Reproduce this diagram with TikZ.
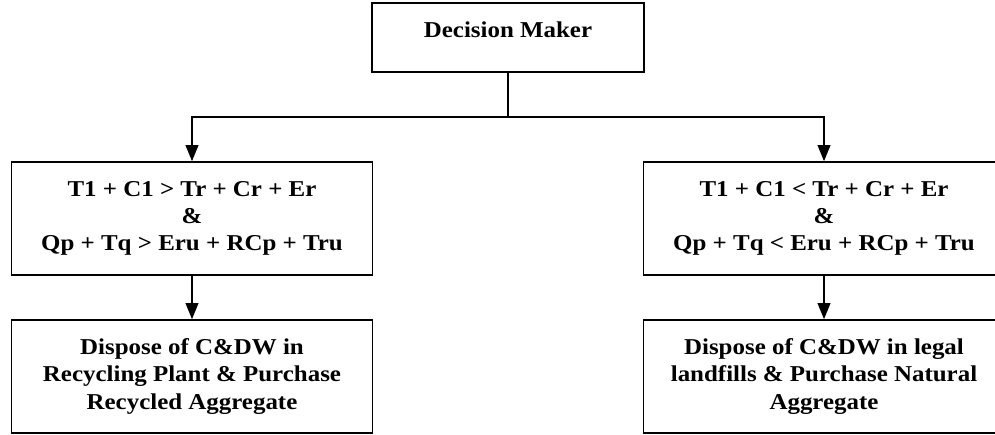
\documentclass[tikz,border=0pt]{standalone}
\usepackage{fontspec}
\setmainfont{Liberation Serif}[FakeStretch=1.1]
\usetikzlibrary{arrows.meta}
\begin{document}
\begin{tikzpicture}[x=0.75pt,y=-0.75pt,
  every node/.style={font=\fontsize{17pt}{20.4pt}\selectfont\bfseries},
  box/.style={draw, line width=1.2pt, align=center, minimum width=270.75pt, minimum height=84.75pt, inner sep=2pt},
  dbox/.style={draw, line width=1.2pt, minimum width=204pt, minimum height=51.75pt, text height=15pt, text depth=15pt},
  link/.style={line width=1.2pt},
  arrow/.style={line width=1.2pt, -{Triangle[length=12pt,width=9.5pt]}}]
\clip (0,0) rectangle (995,435);
\node[dbox] (dm) at (508,37.5) {Decision Maker};
\node[box] (c1) at (192,218.5) {T1 + C1 > Tr + Cr + Er\\\&\\Qp + Tq > Eru + RCp + Tru};
\node[box] (c2) at (824,218.5) {T1 + C1 < Tr + Cr + Er\\\&\\Qp + Tq < Eru + RCp + Tru};
\node[box] (o1) at (192,376.5) {Dispose of C\&DW in\\Recycling Plant \& Purchase\\Recycled Aggregate};
\node[box] (o2) at (824,376.5) {Dispose of C\&DW in legal\\landfills \& Purchase Natural\\Aggregate};
\coordinate (j) at (508,117);
\draw[link] (dm.south) -- (j);
\draw[arrow] (j) -| (c1.north);
\draw[arrow] (j) -| (c2.north);
\draw[arrow] (c1) -- (o1);
\draw[arrow] (c2) -- (o2);
\end{tikzpicture}
\end{document}
